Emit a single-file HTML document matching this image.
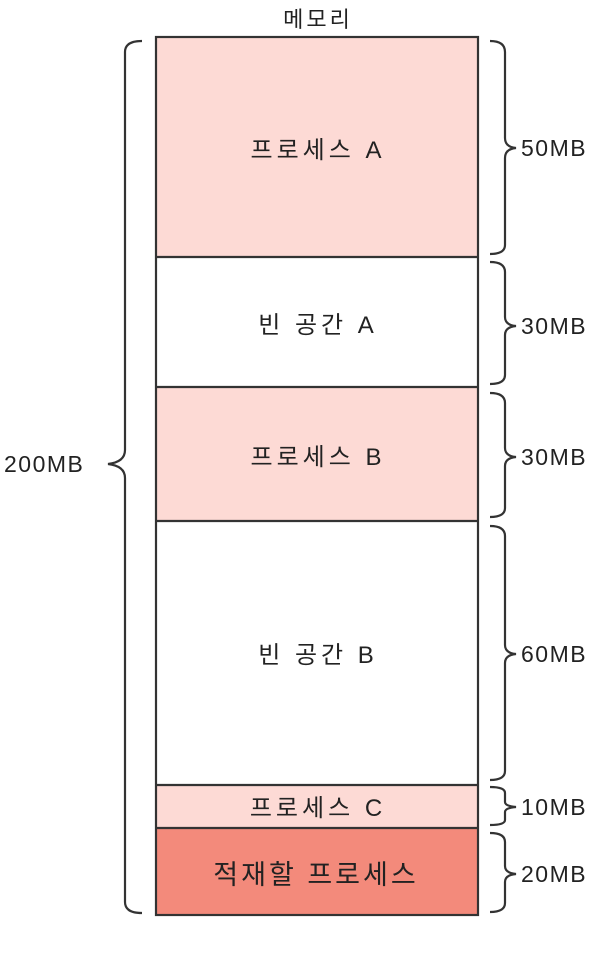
<!DOCTYPE html>
<html><head><meta charset="utf-8"><style>
body{margin:0;background:#fff;width:614px;height:958px;overflow:hidden}
svg{display:block}
text{font-family:"Liberation Sans","Noto Sans CJK KR",sans-serif;fill:#222}
</style></head><body>
<svg width="614" height="958" viewBox="0 0 614 958">
<rect x="156" y="37" width="322" height="220" fill="#fddad5"/>
<rect x="156" y="387" width="322" height="134" fill="#fddad5"/>
<rect x="156" y="785" width="322" height="43" fill="#fddad5"/>
<rect x="156" y="828" width="322" height="87" fill="#f38a7b"/>
<g stroke="#333" stroke-width="2.2" fill="none">
<rect x="156" y="37" width="322" height="878"/>
<line x1="156" y1="257" x2="478" y2="257"/>
<line x1="156" y1="387" x2="478" y2="387"/>
<line x1="156" y1="521" x2="478" y2="521"/>
<line x1="156" y1="785" x2="478" y2="785"/>
<line x1="156" y1="828" x2="478" y2="828"/>
<path d="M142 41 Q125 41 125 52 L125 450 Q125 462 108 464 Q125 466 125 478 L125 902 Q125 913 142 913"/>
<path d="M490 41 Q505 41 505 52 L505 138 Q505 147 516 148 Q505 149 505 158 L505 245 Q505 254 490 254"/>
<path d="M490 262 Q505 262 505 272 L505 317 Q505 325 516 326 Q505 327 505 335 L505 375 Q505 384 490 384"/>
<path d="M490 393 Q505 393 505 403 L505 448 Q505 456 516 457 Q505 458 505 466 L505 508 Q505 517 490 517"/>
<path d="M490 526 Q505 526 505 536 L505 645 Q505 653 516 654 Q505 655 505 663 L505 771 Q505 780 490 780"/>
<path d="M490 787 Q505 787 505 793 L505 802 Q505 806 516 807 Q505 808 505 812 L505 820 Q505 825 490 825"/>
<path d="M490 833 Q505 833 505 842 L505 866 Q505 873 516 874 Q505 875 505 882 L505 903 Q505 912 490 912"/>
</g>
<g font-size="24" text-anchor="middle" letter-spacing="4">
<text x="318" y="27" font-size="22" letter-spacing="3">메모리</text>
<text x="318" y="158">프로세스 A</text>
<text x="318" y="333">빈 공간 A</text>
<text x="318" y="465">프로세스 B</text>
<text x="318" y="663">빈 공간 B</text>
<text x="318" y="816">프로세스 C</text>
<text x="316" y="884" font-size="27" letter-spacing="3">적재할 프로세스</text>
</g>
<g font-size="23" letter-spacing="1.5">
<text x="521" y="156">50MB</text>
<text x="521" y="334">30MB</text>
<text x="521" y="465">30MB</text>
<text x="521" y="662">60MB</text>
<text x="521" y="815">10MB</text>
<text x="521" y="882">20MB</text>
<text x="4" y="472">200MB</text>
</g>
</svg>
</body></html>
